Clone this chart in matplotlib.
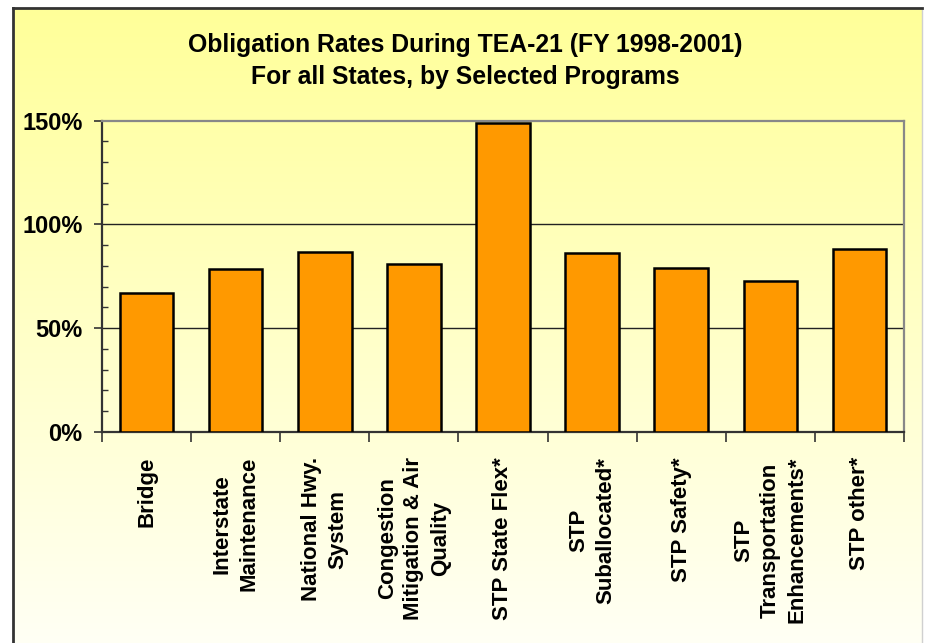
import numpy as np
import matplotlib.pyplot as plt
from matplotlib.ticker import MultipleLocator, FixedLocator, FuncFormatter

programs = ["Bridge", "Interstate\nMaintenance", "National Hwy.\nSystem",
            "Congestion\nMitigation & Air\nQuality", "STP State Flex*",
            "STP\nSuballocated*", "STP Safety*",
            "STP\nTransportation\nEnhancements*", "STP other*"]
rates = [0.672, 0.784, 0.865, 0.81, 1.487, 0.862, 0.791, 0.73, 0.883]
yticks = [0, 0.5, 1.0, 1.5]

W, H = 925, 643
fig = plt.figure(figsize=(W / 100, H / 100), dpi=100)

# yellow panel with gradient
bg = fig.add_axes([13 / W, 0, (922 - 13) / W, (H - 8) / H])
grad = np.linspace(0, 1, 256).reshape(-1, 1)
top = np.array([1.0, 1.0, 0.60])
bot = np.array([1.0, 1.0, 0.96])
img = top + (bot - top) * grad[:, :, None]
bg.imshow(img, aspect='auto', extent=[0, 1, 0, 1], origin='upper')
bg.set_xlim(0, 1)
bg.set_ylim(0, 1)
bg.set_xticks([])
bg.set_yticks([])
for s in ['left', 'top']:
    bg.spines[s].set_color('#333333')
    bg.spines[s].set_linewidth(2)
bg.spines['bottom'].set_visible(False)
bg.spines['right'].set_color('#d0d0d0')
bg.spines['right'].set_linewidth(1)

fig.text(465 / W, 1 - 61 / H,
         "Obligation Rates During TEA-21 (FY 1998-2001)\nFor all States, by Selected Programs",
         ha='center', va='center', fontsize=17.8, fontweight='bold',
         family=['Liberation Sans Narrow', 'Liberation Sans', 'DejaVu Sans'],
         linespacing=1.4)

ax = fig.add_axes([102 / W, 1 - 432 / H, (904 - 102) / W, (432 - 120.7) / H])
ax.patch.set_alpha(0)
x = np.arange(len(programs))
for yv in [0.5, 1.0]:
    ax.axhline(yv, color='#222222', lw=1, zorder=1)
ax.bar(x, rates, width=0.6, color='#FF9900', edgecolor='black', linewidth=1.8, zorder=3)

ax.set_xlim(-0.5, len(programs) - 0.5)
ax.set_ylim(0, 1.5)
ax.spines['left'].set_color('#333333')
ax.spines['bottom'].set_color('#333333')
ax.spines['top'].set_color('#888888')
ax.spines['right'].set_color('#888888')
for s in ax.spines.values():
    s.set_linewidth(1.6)

ax.yaxis.set_major_locator(FixedLocator(yticks))
ax.yaxis.set_minor_locator(MultipleLocator(0.1))
ax.yaxis.set_major_formatter(FuncFormatter(lambda v, p: f"{v:.0%}"))
ax.tick_params(axis='y', which='major', direction='out', length=6, width=1.2,
               color='#333333', pad=8)
ax.tick_params(axis='y', which='minor', direction='in', length=4, width=1,
               color='#333333')
for lab in ax.get_yticklabels():
    lab.set_fontsize(17)
    lab.set_fontweight('bold')
    lab.set_family(['Liberation Sans', 'DejaVu Sans'])

ax.set_xticks(x)
ax.set_xticklabels(programs, rotation=90, ha='center', va='top',
                   multialignment='center', fontsize=16, fontweight='bold',
                   family=['Liberation Sans', 'DejaVu Sans'], linespacing=1.35)
ax.set_xticks(np.arange(-0.5, len(programs)), minor=True)
ax.tick_params(axis='x', which='major', length=0, pad=18)
ax.tick_params(axis='x', which='minor', direction='out', length=7, width=1.2,
               color='#333333')

fig.savefig('out.png', dpi=100)
